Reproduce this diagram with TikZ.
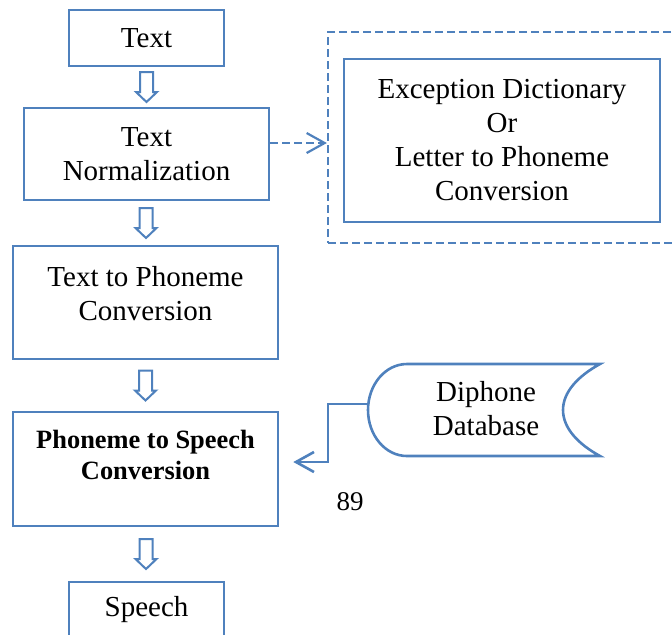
\documentclass[tikz,border=0pt]{standalone}
\usepackage{fontspec}
\setmainfont{Liberation Serif}
\usetikzlibrary{positioning,calc,arrows.meta}
\definecolor{boxblue}{RGB}{79,129,189}

\begin{document}
\begin{tikzpicture}[x=0.5pt, y=-0.5pt,
    stage/.style={rectangle, draw=boxblue, line width=1.3pt, inner sep=0pt, align=center, font=\fontsize{14.5}{17}\selectfont},
    boldstage/.style={stage, font=\fontsize{13.2}{15.5}\selectfont\bfseries},
    dashbox/.style={rectangle, draw=boxblue, line width=1.1pt, dash pattern=on 4pt off 2pt},
    label/.style={inner sep=0pt, align=center, font=\fontsize{14.5}{17}\selectfont},
    hollow/.style={draw=boxblue, line width=1pt, fill=white, line join=miter},
    flow/.style={draw=boxblue, line width=1.3pt, -{Straight Barb[length=9pt,width=10pt]}},
    dashflow/.style={flow, line width=1.1pt, dash pattern=on 4pt off 2pt}
]
\useasboundingbox (0,0) rectangle (672,634);

% Main pipeline (pixel coordinates, y grows downward)
\node[stage, minimum width=77.5pt, minimum height=28pt] (txt) at (146.5,38) {Text};
\node[stage, minimum width=122.5pt, minimum height=46pt] (norm) at (146.5,154) {Text\\Normalization};
\node[stage, minimum width=132.5pt, minimum height=56.5pt] (t2p) at (145.5,302.5) {Text to Phoneme\\Conversion\rule[-9pt]{0pt}{9pt}};
\node[boldstage, minimum width=132.5pt, minimum height=57pt] (p2s) at (145.5,469) {Phoneme to Speech\\Conversion\rule[-14pt]{0pt}{14pt}};
\node[stage, minimum width=77.5pt, minimum height=28pt] (speech) at (146.5,610) {Speech};

% Hollow block arrows between the stages
\coordinate (a1) at ($(txt.south)!0.5!(norm.north)$);
\coordinate (a2) at ($(norm.south)!0.5!(t2p.north)$);
\coordinate (a3) at ($(t2p.south)!0.5!(p2s.north)$);
\coordinate (a4) at ($(p2s.south)!0.5!(speech.north)$);
\foreach \c in {a1,a2,a3,a4} {
    \draw[hollow, shift={(\c)}] (-6.5,-15) -- (6.5,-15) -- (6.5,5) -- (10.5,5) -- (0,15) -- (-10.5,5) -- (-6.5,5) -- cycle;
}

% Exception dictionary block
\node[dashbox, minimum width=186pt, minimum height=105.5pt] (dict) at (514,137.5) {};
\node[stage, minimum width=158pt, minimum height=81.5pt] (rules) at (502,140.5) {Exception Dictionary\\Or\\Letter to Phoneme\\Conversion};

\coordinate (normout) at ([yshift=5.5pt]norm.east);
\draw[dashflow] (normout) -- (normout -| dict.west);

% Diphone database (stored data shape)
\draw[draw=boxblue, line width=1.3pt] (407,364) -- (600,364)
    .. controls (578,376) and (563,392) .. (563,410)
    .. controls (563,428) and (578,444) .. (600,456)
    -- (407,456)
    .. controls (385,456) and (368,435) .. (368,410)
    .. controls (368,385) and (385,364) .. (407,364) -- cycle;
\node[label] (db) at (486,409) {Diphone\\Database};

\coordinate (dbport) at (368,404);
\coordinate (p2sin) at ($(p2s.east)+(14,-7)$);
\draw[flow] (dbport) -- ++(-40,0) |- (p2sin);

\node[label, font=\fontsize{13.5}{16}\selectfont] (pagenum) at (350,502) {89};

\end{tikzpicture}
\end{document}
